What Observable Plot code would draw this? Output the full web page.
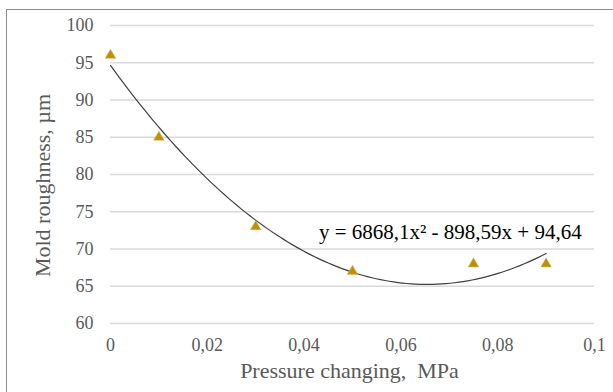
<!DOCTYPE html>
<html>
<head>
<meta charset="utf-8">
<script src="https://cdn.jsdelivr.net/npm/d3@7"></script>
<script src="https://cdn.jsdelivr.net/npm/@observablehq/plot@0.6"></script>
<style>
  html, body { margin: 0; padding: 0; background: #fff; }
  #wrap { position: relative; width: 613px; height: 392px; overflow: hidden; }
  #border { position: absolute; left: 6px; top: 9px; width: 620px; height: 400px;
            border-top: 1.5px solid #8c8c8c; border-left: 1.5px solid #8c8c8c; pointer-events: none; }
  #chart { position: absolute; left: 0; top: 0; }
</style>
</head>
<body>
<div id="wrap"><div id="chart"></div><div id="border"></div></div>
<script>
// Measured data
const pressure = [0, 0.01, 0.03, 0.05, 0.075, 0.09];
const roughness = [96, 85, 73, 67, 68, 68];
// Trendline coefficients as printed on the chart: y = a x^2 + b x + c
const trendCoef = { a: 6868.1, b: -898.59, c: 94.64 };
const trendLabel = "y = 6868,1x² - 898,59x + 94,64";
const xTicks = [0, 0.02, 0.04, 0.06, 0.08, 0.1];
const yTicks = [60, 65, 70, 75, 80, 85, 90, 95, 100];
const xTitle = "Pressure changing,  MPa";
const yTitle = "Mold roughness, µm";

const points = pressure.map((x, i) => ({ x, y: roughness[i] }));
const xMin = d3.min(pressure), xMax = d3.max(pressure);
const trend = d3.range(0, 101).map(i => {
  const x = xMin + (xMax - xMin) * i / 100;
  return { x, y: trendCoef.a * x * x + trendCoef.b * x + trendCoef.c };
});

const fmt = d => String(d).replace(".", ",");
const serif = "Liberation Serif, Times New Roman, serif";
const grey = "#595959";

const chart = Plot.plot({
  width: 613,
  height: 392,
  marginLeft: 110,
  marginRight: 19,
  marginTop: 25,
  marginBottom: 69,
  style: { fontFamily: serif, background: "transparent" },
  x: { domain: [0, 0.1], axis: null },
  y: { domain: [60, 100], axis: null },
  marks: [
    Plot.gridY(yTicks, { stroke: "#d9d9d9", strokeOpacity: 1, strokeWidth: 1.3 }),
    Plot.text(yTicks, { y: d => d, frameAnchor: "left", dx: -17, textAnchor: "end", text: d => String(d),
                        fontSize: 18, fontFamily: serif, fill: grey }),
    Plot.text(xTicks, { x: d => d, frameAnchor: "bottom", dy: 22, lineAnchor: "middle", text: fmt,
                        fontSize: 18, fontFamily: serif, fill: grey }),
    Plot.text([yTitle], { frameAnchor: "left", dx: -68, dy: 11, rotate: -90, textAnchor: "middle", lineAnchor: "middle",
                          text: d => d, fontSize: 22, fontFamily: serif, fill: grey }),
    Plot.text([xTitle], { frameAnchor: "bottom", dy: 47, dx: -3, lineAnchor: "middle", text: d => d,
                          fontSize: 22, fontFamily: serif, fill: grey }),
    Plot.line(trend, { x: "x", y: "y", stroke: "#404040", strokeWidth: 1.2, curve: "linear" }),
    Plot.dot(points, { x: "x", y: "y", symbol: "triangle", r: 3.9, fill: "#BF9000", stroke: "#c9b27a", strokeWidth: 0.5 }),
    Plot.text([trendLabel], { x: 0.0702, y: 72.3, text: d => d, fontSize: 21, fontFamily: serif, fill: "#000", textAnchor: "middle" })
  ]
});
document.getElementById("chart").appendChild(chart);
</script>
</body>
</html>
